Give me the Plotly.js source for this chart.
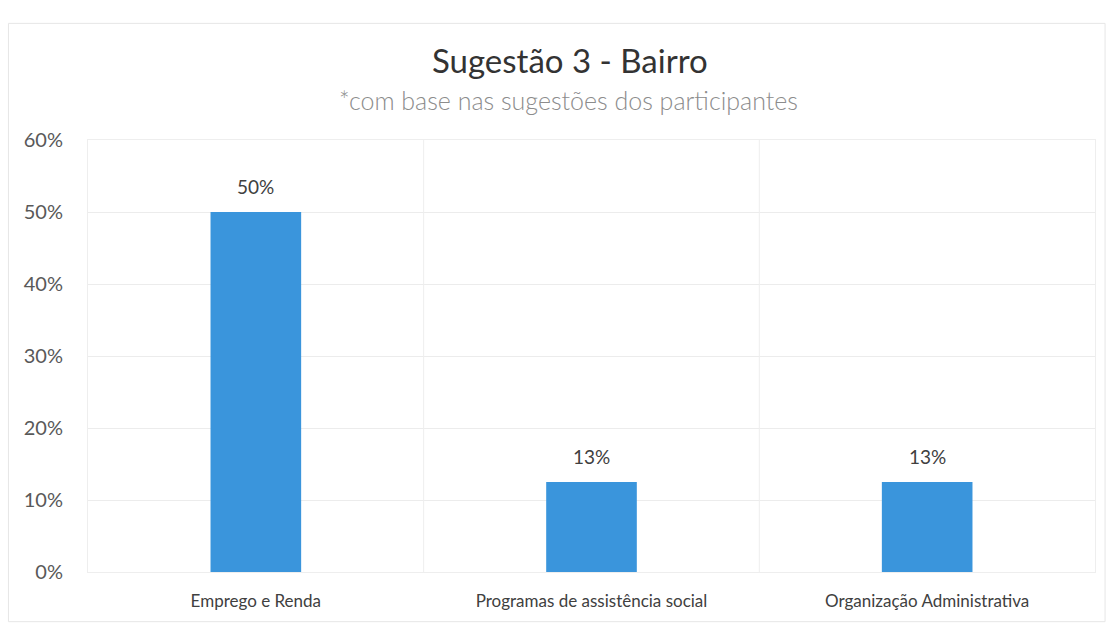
<!DOCTYPE html>
<html>
<head>
<meta charset="utf-8">
<script src="https://cdn.plot.ly/plotly-3.0.1.min.js"></script>
<style>
  html, body { margin: 0; padding: 0; background: #fff; }
  #chart { width: 1116px; height: 626px; }
</style>
</head>
<body>
<div id="chart"></div>
<script>
const categories = ['Emprego e Renda', 'Programas de assistência social', 'Organização Administrativa'];
const shares = [0.50, 0.125, 0.125];
const shareLabels = ['50%', '13%', '13%'];
const yTicks = [0, 0.1, 0.2, 0.3, 0.4, 0.5, 0.6];
const yTickLabels = ['0%', '10%', '20%', '30%', '40%', '50%', '60%'];

const font = 'Lato, "Open Sans", sans-serif';

const bars = {
    type: 'bar',
    x: categories,
    y: shares,
    marker: { color: '#3a95dc' },
    hoverinfo: 'x+y'
};

// value labels above the bars
const valueLabels = categories.map((c, i) => ({
    x: c,
    y: shares[i],
    xref: 'x',
    yref: 'y',
    text: shareLabels[i],
    showarrow: false,
    yanchor: 'bottom',
    yshift: 12,
    font: { family: font, size: 19, color: '#404040' }
}));

const layout = {
    width: 1116,
    height: 626,
    margin: { l: 88, r: 21, t: 140, b: 54 },
    paper_bgcolor: '#ffffff',
    plot_bgcolor: '#ffffff',
    showlegend: false,
    bargap: 0.73,
    font: { family: font, color: '#595959' },
    xaxis: {
        type: 'category',
        tickfont: { family: font, size: 17, color: '#404040' },
        ticks: '',
        ticklabelstandoff: 14,
        showgrid: false,
        showline: true,
        linecolor: '#eeeeee',
        mirror: true,
        zeroline: false
    },
    yaxis: {
        range: [0, 0.6],
        tickvals: yTicks,
        ticktext: yTickLabels,
        tickfont: { family: font, size: 20, color: '#595959' },
        ticks: '',
        ticklabelstandoff: 20,
        gridcolor: '#ececec',
        showline: true,
        linecolor: '#eeeeee',
        mirror: true,
        zeroline: false
    },
    shapes: [
        // faint separators between categories
        { type: 'line', xref: 'x', yref: 'paper', x0: 0.5, x1: 0.5, y0: 0, y1: 1, line: { color: '#eeeeee', width: 1 } },
        { type: 'line', xref: 'x', yref: 'paper', x0: 1.5, x1: 1.5, y0: 0, y1: 1, line: { color: '#eeeeee', width: 1 } },
        // chart frame
        { type: 'rect', xref: 'paper', yref: 'paper', x0: -0.079, x1: 1.01, y0: -0.115, y1: 1.27,
          line: { color: '#e6e6e6', width: 1 }, layer: 'below' }
    ],
    annotations: [
        { text: 'Sugestão 3 - Bairro', xref: 'paper', yref: 'paper', x: 0.479, y: 1.185,
          xanchor: 'center', yanchor: 'middle', showarrow: false,
          font: { family: font, size: 33, color: '#333333' } },
        { text: '*com base nas sugestões dos participantes', xref: 'paper', yref: 'paper', x: 0.477, y: 1.093,
          xanchor: 'center', yanchor: 'middle', showarrow: false,
          font: { family: font, size: 25, color: '#8c8c8c', weight: 300 } }
    ].concat(valueLabels)
};

Plotly.newPlot('chart', [bars], layout, { displayModeBar: false, staticPlot: true });
</script>
</body>
</html>
